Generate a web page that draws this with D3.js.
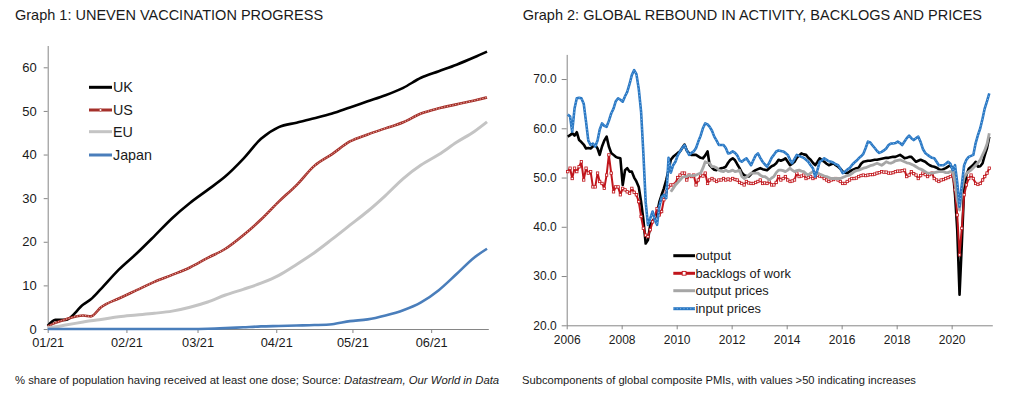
<!DOCTYPE html>
<html><head><meta charset="utf-8">
<script src="https://cdn.jsdelivr.net/npm/d3@7"></script>
<style>
body{margin:0;background:#fff;}
svg{display:block;font-family:"Liberation Sans",Arial,Helvetica,sans-serif;}
</style></head><body>
<svg id="c" width="1023" height="393"></svg>
<script>
// ---------- Graph 1 data ----------
const vaxDates = ["2021-01-01","2021-01-04","2021-01-08","2021-01-15","2021-01-18","2021-01-22","2021-01-29",
  "2021-02-05","2021-02-12","2021-02-19","2021-02-26","2021-03-05","2021-03-12","2021-03-19","2021-03-26",
  "2021-04-02","2021-04-09","2021-04-16","2021-04-23","2021-04-30","2021-05-07","2021-05-14","2021-05-21",
  "2021-05-28","2021-06-04","2021-06-11","2021-06-18","2021-06-23"];
const ukValues = [0.7,2.1,2.1,5.6,6.8,9.2,13.6,17.3,21.3,25.4,28.9,31.9,35.0,39.0,43.6,46.3,47.3,48.3,49.4,50.8,52.2,53.6,55.3,57.6,59.1,60.6,62.3,63.6];
const usValues = [0.6,1.4,2.2,3.1,2.9,5.0,7.0,8.9,10.8,12.4,14.1,16.3,18.4,21.5,25.1,29.2,33.0,37.4,40.1,43.0,44.6,46.0,47.4,49.4,50.6,51.5,52.4,53.1];
const euValues = [0.3,0.5,0.9,1.6,1.9,2.2,2.8,3.2,3.6,4.1,5.0,6.2,7.8,9.1,10.5,12.3,14.8,17.5,20.6,23.8,27.0,30.6,34.5,37.6,40.0,42.8,45.3,47.5];
const japanValues = [0,0,0,0,0,0,0,0,0,0,0,0.05,0.2,0.4,0.6,0.7,0.8,0.9,1.1,1.8,2.2,3.1,4.3,6.1,8.9,12.6,16.4,18.4];
const vaxTickLabels = ["01/21","02/21","03/21","04/21","05/21","06/21"];
const vaxYTicks = [0,10,20,30,40,50,60];

// ---------- Graph 2 data (monthly, Jan 2006 - May 2021) ----------
const pmiFirstMonth = "2006-01";
const pmiMonthCount = 185;
const outputPMI = [
58.3,58.6,59.0,58.5,59.2,57.6,57.2,56.7,55.9,56.0,
55.9,56.3,56.6,55.9,54.6,56.3,57.5,58.3,56.3,55.0,
54.6,54.2,54.0,53.9,48.5,51.5,51.9,51.2,51.2,50.0,
49.2,48.1,45.1,41.5,36.6,37.3,40.4,41.2,41.7,42.7,
45.0,46.5,47.8,49.5,51.5,53.6,54.2,54.6,55.0,55.3,
56.0,56.7,55.5,54.9,54.6,54.6,54.6,54.3,54.0,53.9,
54.5,55.3,52.5,52.0,51.6,51.5,51.7,51.9,52.0,52.2,
53.0,53.6,53.9,53.5,52.7,51.9,51.0,50.5,50.3,50.2,
50.7,51.2,51.5,51.7,51.9,51.7,51.6,51.5,51.9,52.3,
52.5,52.9,53.6,53.4,53.6,53.9,53.2,52.5,52.8,53.2,
54.0,54.5,54.9,54.7,54.6,54.0,53.6,53.0,52.5,53.2,
53.9,53.5,53.2,52.8,52.5,52.7,52.9,52.5,52.2,51.8,
51.2,51.0,50.9,51.2,51.5,51.7,51.9,52.0,52.8,53.2,
53.3,53.4,53.4,53.5,53.6,53.6,53.7,53.8,53.9,54.0,
54.0,54.1,54.2,54.2,54.4,54.6,54.3,53.9,54.0,54.2,
54.2,53.7,53.2,53.4,53.6,53.4,53.2,52.8,52.5,52.3,
52.2,52.0,51.7,51.5,51.7,51.9,52.2,52.5,51.8,46.5,
39.5,26.2,36.5,47.8,50.5,51.8,52.2,52.6,53.2,52.2,
52.3,52.9,54.5,56.0,58.3];
const backlogsPMI = [
51.2,51.9,49.8,51.9,51.2,52.2,53.2,49.5,51.9,50.9,
51.2,48.1,48.1,50.9,49.2,48.8,47.8,50.5,54.6,50.9,
47.1,48.1,48.1,46.5,47.8,47.5,47.1,46.8,47.8,47.0,
46.5,45.1,42.1,39.7,38.3,38.0,39.4,41.0,42.1,43.7,
42.4,43.1,45.5,47.1,48.1,48.5,48.5,48.8,50.0,50.5,
50.9,50.9,49.5,50.5,50.2,50.5,48.5,49.5,50.5,50.3,
50.9,48.8,49.5,49.8,49.5,49.2,49.5,49.5,49.8,49.5,
49.7,49.5,49.8,49.6,49.5,49.0,48.8,48.5,49.2,48.9,
48.8,48.8,49.0,49.2,49.5,48.8,48.9,48.8,49.2,48.5,
48.5,49.0,50.2,49.5,49.8,50.2,49.5,49.2,49.3,49.5,
50.9,50.2,50.3,50.5,49.8,50.0,50.2,49.8,50.0,50.5,
50.3,50.2,49.8,49.5,49.2,49.5,49.6,49.8,49.5,49.2,
48.8,48.8,49.2,49.5,49.8,49.8,49.9,50.2,50.4,50.5,
50.4,50.5,50.6,50.6,50.7,50.9,51.0,51.2,51.1,51.1,
50.9,50.9,51.0,51.2,51.3,51.3,51.4,51.5,50.2,50.5,
51.2,50.8,50.5,49.8,50.4,50.9,50.6,50.2,50.6,50.9,
49.8,49.5,49.2,49.5,49.6,49.8,50.0,50.2,50.5,47.5,
42.4,34.3,39.7,46.5,48.5,49.8,50.5,49.8,48.8,48.6,
48.8,49.5,50.2,50.9,51.9];
const outputPricesPMI = [
null,null,null,null,null,null,null,null,null,null,
null,null,null,null,null,null,null,null,null,null,
null,null,null,null,null,null,null,null,null,null,
null,null,null,null,null,null,null,null,null,null,
null,null,null,null,null,47.1,47.8,48.5,49.0,49.5,
50.0,50.2,50.2,50.5,50.4,50.4,50.5,50.7,50.9,51.9,
53.2,53.0,52.9,52.2,52.2,52.0,51.5,51.3,51.2,51.5,
51.2,51.3,51.5,51.2,51.3,51.5,50.2,49.8,50.1,50.5,
50.9,50.9,50.9,50.9,50.5,50.2,50.2,49.9,49.5,49.9,
50.2,51.0,51.5,51.5,51.4,51.2,51.5,51.9,51.5,51.2,
51.4,51.5,51.3,51.2,50.8,50.5,50.9,51.2,51.0,50.9,
50.7,50.5,50.3,50.2,50.0,49.8,49.8,49.8,49.8,49.8,
50.0,50.2,50.4,50.5,50.8,51.2,51.4,51.5,51.7,51.9,
52.0,52.2,52.4,52.5,52.7,52.9,52.7,52.5,52.8,53.2,
53.0,52.9,53.1,53.4,53.5,53.6,53.4,53.2,53.0,52.9,
52.7,52.5,52.2,51.9,51.7,51.5,51.2,50.9,50.9,50.9,
51.0,51.1,51.2,51.2,51.2,51.0,51.0,51.2,51.2,49.0,
45.5,43.4,47.5,50.0,50.8,51.2,51.5,52.0,52.5,53.0,
53.6,54.6,55.5,56.8,59.0];
const inputPricesPMI = [
62.8,62.4,59.3,64.0,66.1,66.2,66.1,65.0,61.3,57.5,
56.6,56.9,56.3,57.5,59.7,61.0,60.5,60.3,61.5,63.0,
64.0,65.5,66.1,65.8,65.4,66.5,67.4,69.0,70.8,71.8,
71.0,68.0,63.4,55.0,45.0,40.4,41.7,43.1,41.5,40.4,
44.1,46.0,46.5,45.8,54.0,51.0,52.5,53.2,54.5,55.3,
56.0,56.6,55.5,54.6,55.0,55.3,56.0,57.3,58.5,60.0,
61.0,60.8,60.3,59.5,58.3,57.5,56.6,56.6,56.6,56.0,
54.9,55.0,55.3,55.0,54.5,53.5,53.2,53.6,53.9,53.2,
52.5,53.5,54.5,54.9,54.0,53.2,52.7,52.2,53.0,54.0,
54.6,55.3,55.5,55.4,55.3,55.0,54.6,53.6,52.9,53.8,
54.6,54.4,54.2,54.0,53.6,53.2,52.5,51.9,50.2,51.6,
53.2,53.5,53.9,53.6,53.3,53.2,53.0,52.7,52.5,51.8,
50.9,51.2,51.6,51.9,52.5,53.0,53.4,53.9,54.3,54.8,
56.0,57.3,57.1,56.5,56.0,55.4,55.0,55.2,55.5,55.9,
56.6,56.9,56.9,57.0,57.3,57.0,56.6,57.3,58.0,58.5,
58.0,57.6,58.0,58.3,57.2,55.8,55.0,54.6,54.3,54.0,
53.9,53.2,52.5,52.5,52.5,52.8,53.2,52.8,51.5,52.5,
49.0,44.1,48.5,52.5,53.6,54.2,54.4,54.6,57.0,58.6,
60.0,62.0,64.0,65.5,67.1];
const pmiYearTicks = [2006,2008,2010,2012,2014,2016,2018,2020];
const pmiYTicks = [20,30,40,50,60,70];

// ---------- drawing ----------
const svg = d3.select("#c");
svg.append("rect").attr("width",1023).attr("height",393).attr("fill","#fff");
const AX = "#868686", TXT = "#1a1a1a";

function styleAxis(g, fs){
  g.select(".domain").attr("stroke",AX).attr("stroke-width",1);
  g.selectAll(".tick line").attr("stroke",AX);
  g.selectAll(".tick text").attr("fill",TXT).attr("font-size",fs).attr("font-family","Liberation Sans, Arial, sans-serif");
}

// ===== Graph 1 =====
svg.append("text").attr("x",15).attr("y",20).attr("font-size",14.5).attr("fill",TXT)
  .text("Graph 1: UNEVEN VACCINATION PROGRESS");

const parse = d3.timeParse("%Y-%m-%d");
const vd = vaxDates.map(parse);
const x1 = d3.scaleTime().domain([new Date(2021,0,1), new Date(2021,5,23,12)]).range([47.7,488.3]);
const y1 = d3.scaleLinear().domain([0,65]).range([329,45.5]);

const gx1 = svg.append("g").attr("transform","translate(0,329)")
  .call(d3.axisBottom(x1).tickValues(d3.range(6).map(i=>new Date(2021,i,1)))
  .tickFormat((d,i)=>vaxTickLabels[i]).tickSize(4).tickPadding(4.5).tickSizeOuter(0));
styleAxis(gx1,12.8);
const gy1 = svg.append("g").attr("transform","translate(47.7,0)")
  .call(d3.axisLeft(y1).tickValues(vaxYTicks).tickSize(4).tickPadding(7).tickSizeOuter(0));
styleAxis(gy1,13);

const vaxSeries = [
  {name:"UK", vals:ukValues, color:"#000000", w:2.6},
  {name:"US", vals:usValues, color:"#a5302a", w:2.6, tex:"#eab3aa"},
  {name:"EU", vals:euValues, color:"#c4c4c4", w:3},
  {name:"Japan", vals:japanValues, color:"#4a7ebb", w:2.6}
];
const line1 = d3.line().x((d,i)=>x1(vd[i])).y(d=>y1(d)).curve(d3.curveMonotoneX);
vaxSeries.forEach(s=>{
  svg.append("path").attr("d",line1(s.vals)).attr("fill","none").attr("stroke",s.color)
    .attr("stroke-width",s.w).attr("stroke-linejoin","round");
  if(s.tex){
    svg.append("path").attr("d",line1(s.vals)).attr("fill","none").attr("stroke",s.tex)
      .attr("stroke-width",1).attr("stroke-dasharray","1.2 1.6");
  }
});
// legend 1
const leg1Y = [87.3,110,131.7,155];
vaxSeries.forEach((s,i)=>{
  const y = leg1Y[i];
  svg.append("line").attr("x1",89).attr("x2",112).attr("y1",y).attr("y2",y)
    .attr("stroke",s.color).attr("stroke-width",3);
  if(s.tex){
    svg.append("circle").attr("cx",100.5).attr("cy",y).attr("r",1.3).attr("fill","#fff").attr("stroke",s.color).attr("stroke-width",0.6);
  }
  svg.append("text").attr("x",113).attr("y",y).attr("dy","0.36em").attr("font-size",14.3).attr("fill",TXT).text(s.name);
});

svg.append("text").attr("x",15).attr("y",384).attr("font-size",11.3).attr("fill",TXT)
  .call(t=>{
    t.append("tspan").text("% share of population having received at least one dose; Source: ");
    t.append("tspan").attr("font-style","italic").text("Datastream, Our World in Data");
  });

// ===== Graph 2 =====
svg.append("text").attr("x",522.7).attr("y",20).attr("font-size",14.5).attr("fill",TXT)
  .text("Graph 2: GLOBAL REBOUND IN ACTIVITY, BACKLOGS AND PRICES");

const [fy,fm] = pmiFirstMonth.split("-").map(Number);
const pmiDates = d3.range(pmiMonthCount).map(i=>new Date(fy, fm-1+i, 15));
const x2 = d3.scaleTime().domain([new Date(2006,0,1), new Date(2021,5,24)]).range([566.7,992.3]);
const y2 = d3.scaleLinear().domain([20,75]).range([325.3,54.4]);

const gx2 = svg.append("g").attr("transform","translate(0,325.3)")
  .call(d3.axisBottom(x2).tickValues(pmiYearTicks.map(y=>new Date(y,0,1)))
  .tickFormat(d3.timeFormat("%Y")).tickSize(4).tickPadding(6).tickSizeOuter(0));
styleAxis(gx2,12);
const gy2 = svg.append("g").attr("transform","translate(566.7,0)")
  .call(d3.axisLeft(y2).tickValues(pmiYTicks).tickFormat(d3.format(".1f")).tickSize(5).tickPadding(5).tickSizeOuter(0));
styleAxis(gy2,12);

const line2 = d3.line().defined(d=>d!=null).x((d,i)=>x2(pmiDates[i])).y(d=>y2(d));
const pmiSeries = [
  {name:"output", vals:outputPMI, color:"#000000", w:2.6},
  {name:"backlogs of work", vals:backlogsPMI, color:"#c0151b", w:2, marker:true},
  {name:"output prices", vals:outputPricesPMI, color:"#a6a6a6", w:2.8},
  {name:"input prices", vals:inputPricesPMI, color:"#2a78c4", w:2.6, tex:"#8fc2ee"}
];
pmiSeries.forEach(s=>{
  svg.append("path").attr("d",line2(s.vals)).attr("fill","none").attr("stroke",s.color)
    .attr("stroke-width",s.w).attr("stroke-linejoin","round");
  if(s.tex){
    svg.append("path").attr("d",line2(s.vals)).attr("fill","none").attr("stroke",s.tex)
      .attr("stroke-width",0.9).attr("stroke-dasharray","1 2.4");
  }
  if(s.marker){
    svg.append("g").selectAll("rect").data(s.vals.map((v,i)=>({v,i})).filter(d=>d.v!=null)).join("rect")
      .attr("x",d=>x2(pmiDates[d.i])-1.2).attr("y",d=>y2(d.v)-1.2)
      .attr("width",2.4).attr("height",2.4).attr("fill","#fff").attr("stroke",s.color).attr("stroke-width",0.8);
  }
});
const leg2Y = [255.7,273.3,290.7,308.7];
pmiSeries.forEach((s,i)=>{
  const y = leg2Y[i];
  svg.append("line").attr("x1",673.3).attr("x2",695).attr("y1",y).attr("y2",y)
    .attr("stroke",s.color).attr("stroke-width",3);
  if(s.marker){
    svg.append("rect").attr("x",682.2).attr("y",y-1.9).attr("width",3.8).attr("height",3.8)
      .attr("fill","#fff").attr("stroke",s.color).attr("stroke-width",0.9);
  }
  if(s.tex){
    svg.append("line").attr("x1",673.3).attr("x2",695).attr("y1",y).attr("y2",y)
      .attr("stroke",s.tex).attr("stroke-width",0.9).attr("stroke-dasharray","1 2.4");
  }
  svg.append("text").attr("x",695.5).attr("y",y).attr("dy","0.36em").attr("font-size",12.8).attr("fill",TXT).text(s.name);
});

svg.append("text").attr("x",522).attr("y",384).attr("font-size",11.2).attr("fill",TXT)
  .text("Subcomponents of global composite PMIs, with values >50 indicating increases");
</script>
</body></html>
